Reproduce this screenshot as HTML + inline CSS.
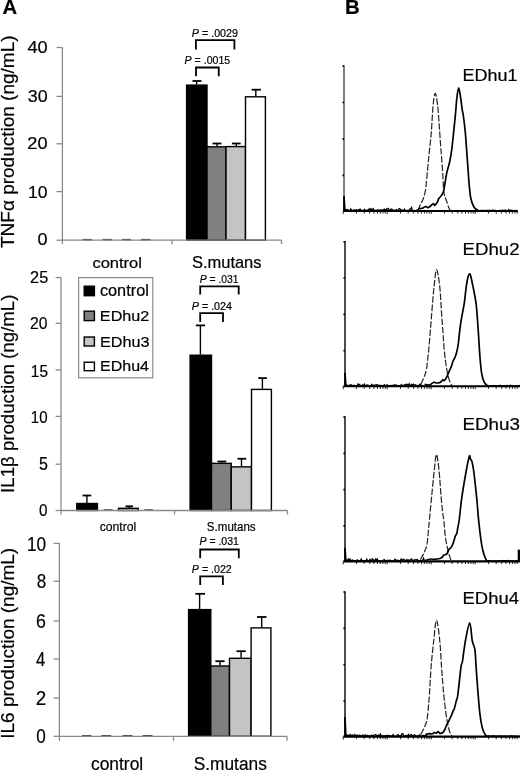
<!DOCTYPE html>
<html><head><meta charset="utf-8"><style>
html,body{margin:0;padding:0;background:#fff;}
body{width:520px;height:772px;overflow:hidden;}
svg{display:block;font-family:"Liberation Sans", sans-serif;filter:grayscale(1);}
text{stroke:#000;stroke-width:0.2px;paint-order:stroke;}
</style></head><body>
<svg width="520" height="772" viewBox="0 0 520 772">
<rect width="520" height="772" fill="#fff"/>
<rect x="186.60" y="85.10" width="20.40" height="155.10" fill="#000" stroke="#000" stroke-width="1.4"/>
<rect x="207.00" y="146.80" width="19.00" height="93.40" fill="#808080" stroke="#000" stroke-width="1.4"/>
<rect x="226.00" y="146.60" width="19.50" height="93.60" fill="#c4c4c4" stroke="#000" stroke-width="1.4"/>
<rect x="245.50" y="96.80" width="19.90" height="143.40" fill="#fff" stroke="#000" stroke-width="1.4"/>
<line x1="196.6" y1="84.5" x2="196.6" y2="81.0" stroke="#000" stroke-width="1.4" />
<line x1="192.5" y1="81.0" x2="201.5" y2="81.0" stroke="#000" stroke-width="1.8" />
<line x1="217" y1="146.2" x2="217" y2="143.5" stroke="#000" stroke-width="1.4" />
<line x1="212.5" y1="143.5" x2="221.5" y2="143.5" stroke="#000" stroke-width="1.8" />
<line x1="236.3" y1="146.0" x2="236.3" y2="143.5" stroke="#000" stroke-width="1.4" />
<line x1="231.9" y1="143.5" x2="240.6" y2="143.5" stroke="#000" stroke-width="1.8" />
<line x1="255.8" y1="96.2" x2="255.8" y2="89.7" stroke="#000" stroke-width="1.4" />
<line x1="251.6" y1="89.7" x2="260.9" y2="89.7" stroke="#000" stroke-width="1.8" />
<line x1="82.5" y1="239.7" x2="92" y2="239.7" stroke="#444" stroke-width="1.6" />
<line x1="102.5" y1="239.7" x2="112" y2="239.7" stroke="#444" stroke-width="1.6" />
<line x1="122" y1="239.7" x2="131" y2="239.7" stroke="#444" stroke-width="1.6" />
<line x1="141" y1="239.7" x2="150.5" y2="239.7" stroke="#444" stroke-width="1.6" />
<line x1="62.4" y1="47.5" x2="62.4" y2="244.2" stroke="#8a8a8a" stroke-width="1.3" />
<line x1="62.4" y1="240.2" x2="281.5" y2="240.2" stroke="#8a8a8a" stroke-width="1.3" />
<line x1="172" y1="240.2" x2="172" y2="244.2" stroke="#8a8a8a" stroke-width="1.3" />
<line x1="281.5" y1="240.2" x2="281.5" y2="244.2" stroke="#8a8a8a" stroke-width="1.3" />
<line x1="56.5" y1="47.5" x2="62.4" y2="47.5" stroke="#8a8a8a" stroke-width="1.3" />
<line x1="56.5" y1="96.4" x2="62.4" y2="96.4" stroke="#8a8a8a" stroke-width="1.3" />
<line x1="56.5" y1="143.8" x2="62.4" y2="143.8" stroke="#8a8a8a" stroke-width="1.3" />
<line x1="56.5" y1="191.6" x2="62.4" y2="191.6" stroke="#8a8a8a" stroke-width="1.3" />
<line x1="56.5" y1="240.2" x2="62.4" y2="240.2" stroke="#8a8a8a" stroke-width="1.3" />
<text transform="translate(27.48,52.90) scale(1.0757,1)" font-size="16.91" font-weight="normal" fill="#000">40</text>
<text transform="translate(27.82,101.70) scale(1.0570,1)" font-size="16.91" font-weight="normal" fill="#000">30</text>
<text transform="translate(27.29,149.30) scale(1.0848,1)" font-size="16.76" font-weight="normal" fill="#000">20</text>
<text transform="translate(27.97,197.80) scale(1.0651,1)" font-size="16.48" font-weight="normal" fill="#000">10</text>
<text transform="translate(37.60,245.40) scale(1.0825,1)" font-size="16.62" font-weight="normal" fill="#000">0</text>
<text transform="translate(92.41,267.60) scale(1.1093,1)" font-size="14.9" font-weight="normal" fill="#000">control</text>
<text transform="translate(191.94,267.60) scale(1.0463,1)" font-size="15.76" font-weight="normal" fill="#000">S.mutans</text>
<text transform="translate(191.77,36.90) scale(0.9490,1)" font-size="11.32" fill="#000" xml:space="preserve"><tspan font-style="italic">P</tspan><tspan font-style="normal"> = .0029</tspan></text>
<text transform="translate(184.62,64.40) scale(0.9353,1)" font-size="11.32" fill="#000" xml:space="preserve"><tspan font-style="italic">P</tspan><tspan font-style="normal"> = .0015</tspan></text>
<path d="M195.9,49.4 V40.2 H234.4 V49.4" fill="none" stroke="#000" stroke-width="1.8"/>
<path d="M196.0,76.3 V67.5 H218.75 V76.3" fill="none" stroke="#000" stroke-width="1.8"/>
<text transform="translate(14.30,248.02) rotate(-90) scale(1.0108,1.0000)" font-size="18.8" fill="#000">TNFα production (ng/mL)</text>
<rect x="190.10" y="355.20" width="21.40" height="155.30" fill="#000" stroke="#000" stroke-width="1.4"/>
<rect x="211.50" y="463.35" width="19.75" height="47.15" fill="#808080" stroke="#000" stroke-width="1.4"/>
<rect x="231.25" y="466.85" width="20.25" height="43.65" fill="#c4c4c4" stroke="#000" stroke-width="1.4"/>
<rect x="251.50" y="389.40" width="19.90" height="121.10" fill="#fff" stroke="#000" stroke-width="1.4"/>
<line x1="200.4" y1="354.6" x2="200.4" y2="325.4" stroke="#000" stroke-width="1.4" />
<line x1="195.8" y1="325.4" x2="205.0" y2="325.4" stroke="#000" stroke-width="1.8" />
<line x1="221.9" y1="462.75" x2="221.9" y2="461.5" stroke="#000" stroke-width="1.4" />
<line x1="217.5" y1="461.5" x2="226.25" y2="461.5" stroke="#000" stroke-width="1.8" />
<line x1="241.5" y1="466.25" x2="241.5" y2="458.75" stroke="#000" stroke-width="1.4" />
<line x1="237.5" y1="458.75" x2="246.25" y2="458.75" stroke="#000" stroke-width="1.8" />
<line x1="262.4" y1="388.8" x2="262.4" y2="378.1" stroke="#000" stroke-width="1.4" />
<line x1="258.3" y1="378.1" x2="266.9" y2="378.1" stroke="#000" stroke-width="1.8" />
<rect x="76.80" y="503.50" width="20.60" height="7.00" fill="#000" stroke="#000" stroke-width="1.4"/>
<line x1="86.9" y1="503.0" x2="86.9" y2="495.5" stroke="#000" stroke-width="1.4" />
<line x1="82.5" y1="495.5" x2="91.25" y2="495.5" stroke="#000" stroke-width="1.8" />
<line x1="103.75" y1="510.0" x2="112.5" y2="510.0" stroke="#444" stroke-width="1.6" />
<rect x="118.50" y="508.30" width="19.70" height="2.20" fill="#c4c4c4" stroke="#000" stroke-width="1.4"/>
<line x1="129.3" y1="508.0" x2="129.3" y2="506.3" stroke="#000" stroke-width="1.4" />
<line x1="125.5" y1="506.3" x2="133.0" y2="506.3" stroke="#000" stroke-width="1.8" />
<line x1="144.5" y1="510.0" x2="153" y2="510.0" stroke="#444" stroke-width="1.6" />
<line x1="61.0" y1="277.5" x2="61.0" y2="514.5" stroke="#8a8a8a" stroke-width="1.3" />
<line x1="61.0" y1="510.5" x2="287.5" y2="510.5" stroke="#8a8a8a" stroke-width="1.3" />
<line x1="174.5" y1="510.5" x2="174.5" y2="514.5" stroke="#8a8a8a" stroke-width="1.3" />
<line x1="287.5" y1="510.5" x2="287.5" y2="514.5" stroke="#8a8a8a" stroke-width="1.3" />
<line x1="55.6" y1="277.5" x2="61.0" y2="277.5" stroke="#8a8a8a" stroke-width="1.3" />
<line x1="55.6" y1="323.3" x2="61.0" y2="323.3" stroke="#8a8a8a" stroke-width="1.3" />
<line x1="55.6" y1="370.0" x2="61.0" y2="370.0" stroke="#8a8a8a" stroke-width="1.3" />
<line x1="55.6" y1="416.4" x2="61.0" y2="416.4" stroke="#8a8a8a" stroke-width="1.3" />
<line x1="55.6" y1="464.2" x2="61.0" y2="464.2" stroke="#8a8a8a" stroke-width="1.3" />
<line x1="55.6" y1="510.5" x2="61.0" y2="510.5" stroke="#8a8a8a" stroke-width="1.3" />
<text transform="translate(30.09,282.90) scale(0.9386,1)" font-size="17.34" font-weight="normal" fill="#000">25</text>
<text transform="translate(30.11,329.20) scale(0.9155,1)" font-size="17.19" font-weight="normal" fill="#000">20</text>
<text transform="translate(30.83,376.60) scale(0.8975,1)" font-size="17.15" font-weight="normal" fill="#000">15</text>
<text transform="translate(30.86,422.60) scale(0.8897,1)" font-size="16.91" font-weight="normal" fill="#000">10</text>
<text transform="translate(39.06,469.80) scale(0.9194,1)" font-size="17.44" font-weight="normal" fill="#000">5</text>
<text transform="translate(39.10,515.80) scale(0.9031,1)" font-size="16.91" font-weight="normal" fill="#000">0</text>
<text transform="translate(99.69,531.00) scale(0.9836,1)" font-size="12.41" font-weight="normal" fill="#000">control</text>
<text transform="translate(206.87,530.90) scale(0.9051,1)" font-size="12.75" font-weight="normal" fill="#000">S.mutans</text>
<text transform="translate(199.68,283.10) scale(0.9404,1)" font-size="11.03" fill="#000" xml:space="preserve"><tspan font-style="italic">P</tspan><tspan font-style="normal"> = .031</tspan></text>
<text transform="translate(191.77,310.00) scale(1.0116,1)" font-size="10.6" fill="#000" xml:space="preserve"><tspan font-style="italic">P</tspan><tspan font-style="normal"> = .024</tspan></text>
<path d="M200.2,294.6 V286.3 H238.7 V294.6" fill="none" stroke="#000" stroke-width="1.8"/>
<path d="M200.2,322.0 V313.1 H223.0 V322.0" fill="none" stroke="#000" stroke-width="1.8"/>
<text transform="translate(14.30,492.92) rotate(-90) scale(0.9916,1.0000)" font-size="18.8" fill="#000">IL1β production (ng/mL)</text>
<rect x="78.6" y="277.6" width="74.2" height="100.2" fill="#fff" stroke="#8a8a8a" stroke-width="1.2"/>
<rect x="84.20" y="286.20" width="10.20" height="9.50" fill="#000" stroke="#000" stroke-width="1.4"/>
<text transform="translate(99.91,295.90) scale(1.0469,1)" font-size="15.59" font-weight="normal" fill="#000">control</text>
<rect x="84.20" y="311.20" width="10.20" height="9.40" fill="#808080" stroke="#000" stroke-width="1.4"/>
<text transform="translate(99.87,321.10) scale(1.0467,1)" font-size="15.45" font-weight="normal" fill="#000">EDhu2</text>
<rect x="84.20" y="337.00" width="10.20" height="9.00" fill="#c4c4c4" stroke="#000" stroke-width="1.4"/>
<text transform="translate(99.97,346.60) scale(1.0782,1)" font-size="15.03" font-weight="normal" fill="#000">EDhu3</text>
<rect x="84.20" y="362.20" width="10.20" height="8.50" fill="#fff" stroke="#000" stroke-width="1.4"/>
<text transform="translate(99.99,371.10) scale(1.1065,1)" font-size="14.48" font-weight="normal" fill="#000">EDhu4</text>
<rect x="188.60" y="609.60" width="22.20" height="126.70" fill="#000" stroke="#000" stroke-width="1.4"/>
<rect x="210.80" y="666.00" width="18.70" height="70.30" fill="#808080" stroke="#000" stroke-width="1.4"/>
<rect x="229.50" y="658.30" width="21.60" height="78.00" fill="#c4c4c4" stroke="#000" stroke-width="1.4"/>
<rect x="251.10" y="627.90" width="19.80" height="108.40" fill="#fff" stroke="#000" stroke-width="1.4"/>
<line x1="199.6" y1="609.0" x2="199.6" y2="593.8" stroke="#000" stroke-width="1.4" />
<line x1="195.4" y1="593.8" x2="205.0" y2="593.8" stroke="#000" stroke-width="1.8" />
<line x1="220.0" y1="665.4" x2="220.0" y2="661.2" stroke="#000" stroke-width="1.4" />
<line x1="215.4" y1="661.2" x2="224.6" y2="661.2" stroke="#000" stroke-width="1.8" />
<line x1="241.1" y1="657.7" x2="241.1" y2="651.2" stroke="#000" stroke-width="1.4" />
<line x1="236.5" y1="651.2" x2="245.8" y2="651.2" stroke="#000" stroke-width="1.8" />
<line x1="261.7" y1="627.3" x2="261.7" y2="617.0" stroke="#000" stroke-width="1.4" />
<line x1="257.0" y1="617.0" x2="266.5" y2="617.0" stroke="#000" stroke-width="1.8" />
<line x1="82" y1="735.8" x2="91.25" y2="735.8" stroke="#444" stroke-width="1.6" />
<line x1="101.25" y1="735.8" x2="111.25" y2="735.8" stroke="#444" stroke-width="1.6" />
<line x1="122.5" y1="735.8" x2="132.5" y2="735.8" stroke="#444" stroke-width="1.6" />
<line x1="142.5" y1="735.8" x2="152.5" y2="735.8" stroke="#444" stroke-width="1.6" />
<line x1="59.4" y1="543.3" x2="59.4" y2="740.8" stroke="#8a8a8a" stroke-width="1.3" />
<line x1="59.4" y1="736.3" x2="287.0" y2="736.3" stroke="#8a8a8a" stroke-width="1.3" />
<line x1="173.5" y1="736.3" x2="173.5" y2="740.8" stroke="#8a8a8a" stroke-width="1.3" />
<line x1="287.0" y1="736.3" x2="287.0" y2="740.8" stroke="#8a8a8a" stroke-width="1.3" />
<line x1="53.6" y1="543.4" x2="59.4" y2="543.4" stroke="#8a8a8a" stroke-width="1.3" />
<line x1="53.6" y1="581.2" x2="59.4" y2="581.2" stroke="#8a8a8a" stroke-width="1.3" />
<line x1="53.6" y1="621.0" x2="59.4" y2="621.0" stroke="#8a8a8a" stroke-width="1.3" />
<line x1="53.6" y1="659.0" x2="59.4" y2="659.0" stroke="#8a8a8a" stroke-width="1.3" />
<line x1="53.6" y1="698.1" x2="59.4" y2="698.1" stroke="#8a8a8a" stroke-width="1.3" />
<line x1="53.6" y1="736.3" x2="59.4" y2="736.3" stroke="#8a8a8a" stroke-width="1.3" />
<text transform="translate(26.89,550.50) scale(0.8726,1)" font-size="19.77" font-weight="normal" fill="#000">10</text>
<text transform="translate(36.67,588.30) scale(0.8610,1)" font-size="19.77" font-weight="normal" fill="#000">8</text>
<text transform="translate(36.09,627.50) scale(0.8997,1)" font-size="19.77" font-weight="normal" fill="#000">6</text>
<text transform="translate(35.92,665.80) scale(0.8430,1)" font-size="19.77" font-weight="normal" fill="#000">4</text>
<text transform="translate(35.86,705.40) scale(0.9402,1)" font-size="20.06" font-weight="normal" fill="#000">2</text>
<text transform="translate(36.33,743.30) scale(0.8677,1)" font-size="19.77" font-weight="normal" fill="#000">0</text>
<text transform="translate(90.97,770.40) scale(0.9937,1)" font-size="17.52" font-weight="normal" fill="#000">control</text>
<text transform="translate(193.70,770.20) scale(0.9516,1)" font-size="18.19" font-weight="normal" fill="#000">S.mutans</text>
<text transform="translate(199.47,545.20) scale(1.0047,1)" font-size="10.46" fill="#000" xml:space="preserve"><tspan font-style="italic">P</tspan><tspan font-style="normal"> = .031</tspan></text>
<text transform="translate(191.87,573.00) scale(0.9753,1)" font-size="10.89" fill="#000" xml:space="preserve"><tspan font-style="italic">P</tspan><tspan font-style="normal"> = .022</tspan></text>
<path d="M200.2,558.2 V549.5 H238.8 V558.2" fill="none" stroke="#000" stroke-width="1.8"/>
<path d="M200.2,585.1 V576.4 H222.9 V585.1" fill="none" stroke="#000" stroke-width="1.8"/>
<text transform="translate(14.30,738.75) rotate(-90) scale(1.0105,1.0000)" font-size="18.8" fill="#000">IL6 production (ng/mL)</text>
<text transform="translate(2.49,14.20) scale(0.9935,1)" font-size="20.4" font-weight="bold" fill="#000">A</text>
<text transform="translate(344.88,13.90) scale(1.0045,1)" font-size="20.4" font-weight="bold" fill="#000">B</text>
<line x1="344.0" y1="65.2" x2="344.0" y2="211.0" stroke="#7a7a7a" stroke-width="1.9"/>
<line x1="342.4" y1="66.00" x2="344.0" y2="66.00" stroke="#000" stroke-width="1.6"/>
<line x1="342.4" y1="102.45" x2="344.0" y2="102.45" stroke="#000" stroke-width="1.6"/>
<line x1="342.4" y1="138.90" x2="344.0" y2="138.90" stroke="#000" stroke-width="1.6"/>
<line x1="342.4" y1="175.35" x2="344.0" y2="175.35" stroke="#000" stroke-width="1.6"/>
<path d="M343.20,211.0 v3.0 M356.45,211.0 v2.6 M364.19,211.0 v2.6 M369.69,211.0 v2.6 M373.95,211.0 v2.6 M377.44,211.0 v2.6 M380.38,211.0 v2.6 M382.94,211.0 v2.6 M385.19,211.0 v2.6 M387.20,211.0 v3.0 M400.45,211.0 v2.6 M408.19,211.0 v2.6 M413.69,211.0 v2.6 M417.95,211.0 v2.6 M421.44,211.0 v2.6 M424.38,211.0 v2.6 M426.94,211.0 v2.6 M429.19,211.0 v2.6 M431.20,211.0 v3.0 M444.45,211.0 v2.6 M452.19,211.0 v2.6 M457.69,211.0 v2.6 M461.95,211.0 v2.6 M465.44,211.0 v2.6 M468.38,211.0 v2.6 M470.94,211.0 v2.6 M473.19,211.0 v2.6 M475.20,211.0 v3.0 M488.45,211.0 v2.6 M496.19,211.0 v2.6 M501.69,211.0 v2.6 M505.95,211.0 v2.6 M509.44,211.0 v2.6 M512.38,211.0 v2.6 M514.94,211.0 v2.6 M517.19,211.0 v2.6" stroke="#222" stroke-width="1.0" fill="none"/>
<line x1="343.3" y1="211.0" x2="517.8" y2="211.0" stroke="#000" stroke-width="2.1"/>
<path d="M344.0,211.0 L344.0,196.0 L344.8,209.5 L347.0,210.4" stroke="#000" stroke-width="1.7" fill="none"/>
<polyline points="346.0,210.61 346.8,209.57 347.6,209.86 348.4,209.81 349.2,210.47 350.0,210.46 350.8,208.99 351.6,210.56 352.4,210.66 353.2,210.04 354.0,209.69 354.8,210.67 355.6,210.17 356.4,209.82 357.2,210.37 358.0,210.31 358.8,209.50 359.6,209.34 360.4,209.24 361.2,210.49 362.0,210.54 362.8,210.41 363.6,210.64 364.4,209.50 365.2,210.63 366.0,210.49 366.8,210.02 367.6,209.94 368.4,210.34 369.2,208.89 370.0,210.25 370.8,208.72 371.6,209.42 372.4,209.71 373.2,208.72 374.0,209.98 374.8,210.40 375.6,210.42 376.4,210.29 377.2,210.23 378.0,209.76 378.8,210.49 379.6,210.17 380.4,210.16 381.2,209.81 382.0,210.66 382.8,209.99 383.6,209.74 384.4,209.02 385.2,209.72 386.0,209.84 386.8,208.82 387.6,208.99 388.4,208.53 389.2,210.45 390.0,210.23 390.8,209.21 391.6,208.91 392.4,209.74 393.2,210.04 394.0,210.56 394.8,210.10 395.6,210.12 396.4,209.68 397.2,210.63 398.0,210.38 398.8,209.04 399.6,208.54 400.4,209.33 401.2,209.85 402.0,210.26 402.8,210.43 403.6,210.28 404.4,209.22 405.2,210.51 406.0,210.51 406.8,210.49 407.6,210.52 408.4,210.54 409.2,209.91 410.0,208.85 410.8,208.98 411.6,207.45 412.4,210.59 413.2,210.57 414.0,210.36 414.8,210.52 415.6,210.57 416.4,210.40 417.2,209.83 418.0,211.00" fill="none" stroke="#000" stroke-width="1.3"/>
<polyline points="480.0,210.27 480.8,210.57 481.6,210.35 482.4,210.52 483.2,210.23 484.0,210.68 484.8,210.53 485.6,210.32 486.4,210.27 487.2,210.25 488.0,210.45 488.8,210.53 489.6,210.16 490.4,210.36 491.2,210.66 492.0,210.60 492.8,209.80 493.6,210.60 494.4,210.43 495.2,210.30 496.0,210.67 496.8,210.65 497.6,210.58 498.4,210.68 499.2,210.60 500.0,210.46 500.8,210.32 501.6,210.63 502.4,210.07 503.2,210.45 504.0,210.20 504.8,210.64 505.6,210.18 506.4,210.70 507.2,210.43 508.0,210.63 508.8,209.54 509.6,210.68 510.4,210.41 511.2,210.24 512.0,210.60 512.8,210.47 513.6,210.67 514.4,210.57 515.2,210.66 516.0,210.35 516.8,210.50 517.3,211.00" fill="none" stroke="#000" stroke-width="1.2"/>
<path d="M418.00,210.60 C418.43,209.53 419.73,206.13 420.60,204.20 C421.47,202.27 422.48,200.87 423.20,199.00 C423.92,197.13 424.40,195.45 424.90,193.00 C425.40,190.55 425.58,190.00 426.20,184.30 C426.82,178.60 427.75,167.43 428.60,158.80 C429.45,150.17 430.57,141.25 431.30,132.50 C432.03,123.75 432.35,112.82 433.00,106.30 C433.65,99.78 434.43,93.62 435.20,93.40 C435.97,93.18 436.93,99.73 437.60,105.00 C438.27,110.27 438.70,118.33 439.20,125.00 C439.70,131.67 440.17,139.17 440.60,145.00 C441.03,150.83 441.40,154.50 441.80,160.00 C442.20,165.50 442.65,172.58 443.00,178.00 C443.35,183.42 443.32,188.70 443.90,192.50 C444.48,196.30 445.63,198.13 446.50,200.80 C447.37,203.47 448.35,206.83 449.10,208.50 C449.85,210.17 450.68,210.42 451.00,210.80" fill="none" stroke="#222" stroke-width="1.2" stroke-dasharray="6.5,1.8"/>
<path d="M418.00,208.80 C418.72,208.70 421.00,208.58 422.30,208.20 C423.60,207.82 424.87,206.60 425.80,206.50 C426.73,206.40 427.12,207.68 427.90,207.60 C428.68,207.52 429.57,206.68 430.50,206.00 C431.43,205.32 432.78,203.62 433.50,203.50 C434.22,203.38 434.15,205.55 434.80,205.30 C435.45,205.05 436.75,203.08 437.40,202.00 C438.05,200.92 438.05,199.87 438.70,198.80 C439.35,197.73 440.50,196.82 441.30,195.60 C442.10,194.38 442.85,193.77 443.50,191.50 C444.15,189.23 444.65,185.15 445.20,182.00 C445.75,178.85 446.07,175.92 446.80,172.60 C447.53,169.28 448.78,165.88 449.60,162.10 C450.42,158.32 451.03,154.85 451.70,149.90 C452.37,144.95 452.98,138.23 453.60,132.40 C454.22,126.57 454.85,120.72 455.40,114.90 C455.95,109.08 456.35,102.00 456.90,97.50 C457.45,93.00 458.08,87.90 458.70,87.90 C459.32,87.90 460.02,93.88 460.60,97.50 C461.18,101.12 461.73,106.52 462.20,109.60 C462.67,112.68 462.88,112.20 463.40,116.00 C463.92,119.80 464.77,126.75 465.30,132.40 C465.83,138.05 466.17,144.08 466.60,149.90 C467.03,155.72 467.47,161.48 467.90,167.30 C468.33,173.12 468.70,179.55 469.20,184.80 C469.70,190.05 470.08,195.05 470.90,198.80 C471.72,202.55 472.98,205.40 474.10,207.30 C475.22,209.20 476.62,209.62 477.60,210.20 C478.58,210.78 479.60,210.70 480.00,210.80" fill="none" stroke="#000" stroke-width="1.7" stroke-linejoin="round"/>
<text transform="translate(462.58,81.25) scale(1.1284,1)" font-size="15.92" fill="#000">EDhu1</text>
<line x1="345.0" y1="240.9" x2="345.0" y2="386.3" stroke="#454545" stroke-width="1.9"/>
<line x1="343.4" y1="241.70" x2="345.0" y2="241.70" stroke="#000" stroke-width="1.6"/>
<line x1="343.4" y1="278.05" x2="345.0" y2="278.05" stroke="#000" stroke-width="1.6"/>
<line x1="343.4" y1="314.40" x2="345.0" y2="314.40" stroke="#000" stroke-width="1.6"/>
<line x1="343.4" y1="350.75" x2="345.0" y2="350.75" stroke="#000" stroke-width="1.6"/>
<path d="M343.20,386.3 v3.0 M356.45,386.3 v2.6 M364.19,386.3 v2.6 M369.69,386.3 v2.6 M373.95,386.3 v2.6 M377.44,386.3 v2.6 M380.38,386.3 v2.6 M382.94,386.3 v2.6 M385.19,386.3 v2.6 M387.20,386.3 v3.0 M400.45,386.3 v2.6 M408.19,386.3 v2.6 M413.69,386.3 v2.6 M417.95,386.3 v2.6 M421.44,386.3 v2.6 M424.38,386.3 v2.6 M426.94,386.3 v2.6 M429.19,386.3 v2.6 M431.20,386.3 v3.0 M444.45,386.3 v2.6 M452.19,386.3 v2.6 M457.69,386.3 v2.6 M461.95,386.3 v2.6 M465.44,386.3 v2.6 M468.38,386.3 v2.6 M470.94,386.3 v2.6 M473.19,386.3 v2.6 M475.20,386.3 v3.0 M488.45,386.3 v2.6 M496.19,386.3 v2.6 M501.69,386.3 v2.6 M505.95,386.3 v2.6 M509.44,386.3 v2.6 M512.38,386.3 v2.6 M514.94,386.3 v2.6 M517.19,386.3 v2.6" stroke="#222" stroke-width="1.0" fill="none"/>
<line x1="343.3" y1="386.3" x2="520" y2="386.3" stroke="#000" stroke-width="2.1"/>
<path d="M345.0,386.3 L345.0,372.7 L345.8,384.8 L348.0,385.7" stroke="#000" stroke-width="1.7" fill="none"/>
<polyline points="346.0,385.96 346.8,385.58 347.6,385.59 348.4,385.68 349.2,385.17 350.0,385.63 350.8,384.59 351.6,385.20 352.4,385.94 353.2,385.37 354.0,385.29 354.8,385.83 355.6,385.80 356.4,385.62 357.2,385.54 358.0,383.99 358.8,385.22 359.6,384.56 360.4,385.82 361.2,385.44 362.0,385.54 362.8,384.82 363.6,385.80 364.4,384.24 365.2,385.72 366.0,385.74 366.8,384.94 367.6,385.17 368.4,385.44 369.2,385.98 370.0,385.62 370.8,385.94 371.6,384.35 372.4,385.28 373.2,385.27 374.0,385.78 374.8,385.01 375.6,385.36 376.4,384.71 377.2,384.82 378.0,385.07 378.8,385.95 379.6,385.22 380.4,385.44 381.2,385.59 382.0,385.35 382.8,385.90 383.6,385.75 384.4,384.79 385.2,385.64 386.0,385.79 386.8,384.91 387.6,385.19 388.4,385.85 389.2,385.41 390.0,385.99 390.8,385.48 391.6,385.68 392.4,385.51 393.2,385.46 394.0,385.08 394.8,384.83 395.6,385.51 396.4,384.96 397.2,385.66 398.0,385.77 398.8,385.40 399.6,385.76 400.4,385.88 401.2,384.76 402.0,385.94 402.8,385.20 403.6,385.56 404.4,385.10 405.2,384.66 406.0,385.63 406.8,384.22 407.6,384.64 408.4,385.78 409.2,383.73 410.0,385.26 410.8,385.92 411.6,384.48 412.4,385.67 413.2,384.18 414.0,384.85 414.8,384.79 415.6,384.86 416.4,385.84 417.2,385.44 418.0,385.54 418.8,385.83 419.6,384.31 420.4,384.44 421.2,385.94 422.0,385.89 422.8,385.47 423.6,385.85 424.4,385.82 424.6,386.30" fill="none" stroke="#000" stroke-width="1.3"/>
<polyline points="487.8,385.49 488.6,385.92 489.4,385.90 490.2,385.83 491.0,385.66 491.8,385.98 492.6,385.90 493.4,385.37 494.2,385.83 495.0,385.56 495.8,385.52 496.6,385.82 497.4,385.77 498.2,385.70 499.0,385.60 499.8,385.35 500.6,385.40 501.4,385.77 502.2,385.52 503.0,385.76 503.8,385.81 504.6,385.70 505.4,385.96 506.2,385.94 507.0,385.28 507.8,385.71 508.6,385.85 509.4,385.99 510.2,385.16 511.0,385.93 511.8,385.72 512.6,385.76 513.4,385.80 514.2,385.77 515.0,385.85 515.8,385.86 516.6,385.96 517.4,385.89 518.2,385.69 519.0,385.43 519.5,386.30" fill="none" stroke="#000" stroke-width="1.2"/>
<path d="M420.80,384.60 C421.43,383.13 423.65,378.40 424.60,375.80 C425.55,373.20 425.93,372.22 426.50,369.00 C427.07,365.78 427.55,360.50 428.00,356.50 C428.45,352.50 428.57,352.35 429.20,345.00 C429.83,337.65 430.98,322.20 431.80,312.40 C432.62,302.60 433.30,293.33 434.10,286.20 C434.90,279.07 435.67,269.60 436.60,269.60 C437.53,269.60 438.88,279.07 439.70,286.20 C440.52,293.33 440.95,304.60 441.50,312.40 C442.05,320.20 442.62,327.57 443.00,333.00 C443.38,338.43 443.42,340.60 443.80,345.00 C444.18,349.40 444.73,354.92 445.30,359.40 C445.87,363.88 446.57,368.53 447.20,371.90 C447.83,375.27 448.38,377.43 449.10,379.60 C449.82,381.77 450.85,383.83 451.50,384.90 C452.15,385.97 452.75,385.82 453.00,386.00" fill="none" stroke="#222" stroke-width="1.2" stroke-dasharray="6.5,1.8"/>
<path d="M424.60,384.40 C425.40,384.50 427.87,385.37 429.40,385.00 C430.93,384.63 432.75,382.53 433.80,382.20 C434.85,381.87 434.67,382.95 435.70,383.00 C436.73,383.05 438.80,383.03 440.00,382.50 C441.20,381.97 442.18,380.12 442.90,379.80 C443.62,379.48 443.67,381.03 444.30,380.60 C444.93,380.17 445.90,378.73 446.70,377.20 C447.50,375.67 448.37,373.08 449.10,371.40 C449.83,369.72 450.45,368.78 451.10,367.10 C451.75,365.42 452.37,362.90 453.00,361.30 C453.63,359.70 454.27,359.10 454.90,357.50 C455.53,355.90 456.22,354.12 456.80,351.70 C457.38,349.28 457.90,346.63 458.40,343.00 C458.90,339.37 459.27,334.12 459.80,329.90 C460.33,325.68 460.87,322.07 461.60,317.70 C462.33,313.33 463.42,308.95 464.20,303.70 C464.98,298.45 465.67,290.65 466.30,286.20 C466.93,281.75 467.48,279.03 468.00,277.00 C468.52,274.97 468.97,274.25 469.40,274.00 C469.83,273.75 470.02,273.47 470.60,275.50 C471.18,277.53 471.98,281.50 472.90,286.20 C473.82,290.90 475.22,296.42 476.10,303.70 C476.98,310.98 477.57,321.15 478.20,329.90 C478.83,338.65 479.32,348.92 479.90,356.20 C480.48,363.48 480.97,369.23 481.70,373.60 C482.43,377.97 483.28,380.33 484.30,382.40 C485.32,384.47 487.22,385.40 487.80,386.00" fill="none" stroke="#000" stroke-width="1.7" stroke-linejoin="round"/>
<text transform="translate(462.52,255.30) scale(1.0802,1)" font-size="17.30" fill="#000">EDhu2</text>
<line x1="345.0" y1="416.3" x2="345.0" y2="561.4" stroke="#454545" stroke-width="1.9"/>
<line x1="343.4" y1="417.10" x2="345.0" y2="417.10" stroke="#000" stroke-width="1.6"/>
<line x1="343.4" y1="453.38" x2="345.0" y2="453.38" stroke="#000" stroke-width="1.6"/>
<line x1="343.4" y1="489.65" x2="345.0" y2="489.65" stroke="#000" stroke-width="1.6"/>
<line x1="343.4" y1="525.92" x2="345.0" y2="525.92" stroke="#000" stroke-width="1.6"/>
<path d="M343.20,561.4 v3.0 M356.45,561.4 v2.6 M364.19,561.4 v2.6 M369.69,561.4 v2.6 M373.95,561.4 v2.6 M377.44,561.4 v2.6 M380.38,561.4 v2.6 M382.94,561.4 v2.6 M385.19,561.4 v2.6 M387.20,561.4 v3.0 M400.45,561.4 v2.6 M408.19,561.4 v2.6 M413.69,561.4 v2.6 M417.95,561.4 v2.6 M421.44,561.4 v2.6 M424.38,561.4 v2.6 M426.94,561.4 v2.6 M429.19,561.4 v2.6 M431.20,561.4 v3.0 M444.45,561.4 v2.6 M452.19,561.4 v2.6 M457.69,561.4 v2.6 M461.95,561.4 v2.6 M465.44,561.4 v2.6 M468.38,561.4 v2.6 M470.94,561.4 v2.6 M473.19,561.4 v2.6 M475.20,561.4 v3.0 M488.45,561.4 v2.6 M496.19,561.4 v2.6 M501.69,561.4 v2.6 M505.95,561.4 v2.6 M509.44,561.4 v2.6 M512.38,561.4 v2.6 M514.94,561.4 v2.6 M517.19,561.4 v2.6" stroke="#222" stroke-width="1.0" fill="none"/>
<line x1="343.3" y1="561.4" x2="520" y2="561.4" stroke="#000" stroke-width="2.1"/>
<path d="M345.0,561.4 L345.0,547.7 L345.8,559.9 L348.0,560.8" stroke="#000" stroke-width="1.7" fill="none"/>
<rect x="517.7" y="549.6" width="3" height="11.799999999999955" fill="#000"/>
<polyline points="346.0,560.04 346.8,560.07 347.6,560.50 348.4,559.04 349.2,560.97 350.0,559.07 350.8,560.11 351.6,560.92 352.4,559.88 353.2,560.65 354.0,560.74 354.8,560.84 355.6,560.44 356.4,560.97 357.2,559.97 358.0,560.78 358.8,560.47 359.6,561.05 360.4,560.73 361.2,559.13 362.0,561.05 362.8,560.57 363.6,560.96 364.4,560.63 365.2,560.75 366.0,560.78 366.8,559.28 367.6,561.08 368.4,560.94 369.2,560.49 370.0,559.28 370.8,560.90 371.6,560.54 372.4,558.87 373.2,559.79 374.0,560.77 374.8,560.50 375.6,559.04 376.4,560.25 377.2,558.92 378.0,560.50 378.8,560.63 379.6,560.75 380.4,560.68 381.2,560.90 382.0,560.84 382.8,560.71 383.6,559.94 384.4,559.75 385.2,561.07 386.0,560.69 386.8,560.44 387.6,560.67 388.4,560.16 389.2,560.69 390.0,560.16 390.8,561.01 391.6,560.80 392.4,560.91 393.2,561.07 394.0,561.10 394.8,559.36 395.6,559.53 396.4,560.92 397.2,560.31 398.0,560.22 398.8,560.82 399.6,561.08 400.4,560.16 401.2,559.07 402.0,560.60 402.8,559.67 403.6,559.16 404.4,560.18 405.2,560.63 406.0,560.40 406.8,559.56 407.6,560.86 408.4,559.94 409.2,560.16 410.0,560.58 410.8,559.39 411.6,558.98 412.4,560.60 413.2,560.41 414.0,560.65 414.8,559.56 415.6,559.81 416.4,560.01 417.2,559.37 418.0,560.35 418.8,560.88 419.6,560.87 420.4,560.59 421.2,560.65 422.0,560.86 422.8,559.96 423.6,558.28 424.4,560.95 425.2,560.86 426.0,559.99 426.5,561.40" fill="none" stroke="#000" stroke-width="1.3"/>
<polyline points="487.0,561.07 487.8,560.57 488.6,560.83 489.4,560.48 490.2,561.00 491.0,560.87 491.8,560.95 492.6,560.90 493.4,561.08 494.2,560.92 495.0,560.86 495.8,561.05 496.6,561.00 497.4,560.74 498.2,560.85 499.0,560.69 499.8,560.82 500.6,561.07 501.4,560.67 502.2,560.54 503.0,560.87 503.8,560.51 504.6,560.83 505.4,560.59 506.2,560.51 507.0,560.91 507.8,561.07 508.6,560.42 509.4,560.51 510.2,561.05 511.0,560.76 511.8,560.95 512.6,560.86 513.4,560.82 514.2,561.03 515.0,560.94 515.8,560.83 516.6,560.53 517.4,560.57 518.2,561.05 519.0,560.55 519.5,561.40" fill="none" stroke="#000" stroke-width="1.2"/>
<path d="M420.30,559.60 C421.02,558.28 423.48,554.30 424.60,551.70 C425.72,549.10 426.35,547.68 427.00,544.00 C427.65,540.32 428.10,533.60 428.50,529.60 C428.90,525.60 428.88,525.45 429.40,520.00 C429.92,514.55 430.80,505.07 431.60,496.90 C432.40,488.73 433.38,478.07 434.20,471.00 C435.02,463.93 435.68,454.50 436.50,454.50 C437.32,454.50 438.33,463.93 439.10,471.00 C439.87,478.07 440.45,489.57 441.10,496.90 C441.75,504.23 442.55,511.15 443.00,515.00 C443.45,518.85 443.42,516.45 443.80,520.00 C444.18,523.55 444.73,531.82 445.30,536.30 C445.87,540.78 446.57,543.85 447.20,546.90 C447.83,549.95 448.45,552.35 449.10,554.60 C449.75,556.85 450.53,559.28 451.10,560.40 C451.67,561.52 452.27,561.15 452.50,561.30" fill="none" stroke="#222" stroke-width="1.2" stroke-dasharray="6.5,1.8"/>
<path d="M426.50,560.00 C427.30,559.83 430.02,559.10 431.30,559.00 C432.58,558.90 432.75,559.48 434.20,559.40 C435.65,559.32 438.72,558.82 440.00,558.50 C441.28,558.18 441.27,558.07 441.90,557.50 C442.53,556.93 443.00,555.67 443.80,555.10 C444.60,554.53 445.88,554.98 446.70,554.10 C447.52,553.22 447.90,551.00 448.70,549.80 C449.50,548.60 450.70,548.18 451.50,546.90 C452.30,545.62 452.85,543.93 453.50,542.10 C454.15,540.27 454.85,537.33 455.40,535.90 C455.95,534.47 456.40,534.87 456.80,533.50 C457.20,532.13 457.40,529.95 457.80,527.70 C458.20,525.45 458.52,525.13 459.20,520.00 C459.88,514.87 460.73,505.07 461.90,496.90 C463.07,488.73 464.97,477.78 466.20,471.00 C467.43,464.22 468.57,458.12 469.30,456.20 C470.03,454.28 470.17,458.63 470.60,459.50 C471.03,460.37 471.38,459.48 471.90,461.40 C472.42,463.32 472.92,465.08 473.70,471.00 C474.48,476.92 475.73,488.25 476.60,496.90 C477.47,505.55 478.03,514.83 478.90,522.90 C479.77,530.97 480.88,539.83 481.80,545.30 C482.72,550.77 483.53,553.03 484.40,555.70 C485.27,558.37 486.57,560.37 487.00,561.30" fill="none" stroke="#000" stroke-width="1.7" stroke-linejoin="round"/>
<text transform="translate(462.51,430.00) scale(1.1237,1)" font-size="16.72" fill="#000">EDhu3</text>
<line x1="345.0" y1="591.2" x2="345.0" y2="736.6" stroke="#454545" stroke-width="1.9"/>
<line x1="343.4" y1="592.00" x2="345.0" y2="592.00" stroke="#000" stroke-width="1.6"/>
<line x1="343.4" y1="628.35" x2="345.0" y2="628.35" stroke="#000" stroke-width="1.6"/>
<line x1="343.4" y1="664.70" x2="345.0" y2="664.70" stroke="#000" stroke-width="1.6"/>
<line x1="343.4" y1="701.05" x2="345.0" y2="701.05" stroke="#000" stroke-width="1.6"/>
<path d="M343.20,736.6 v3.0 M356.45,736.6 v2.6 M364.19,736.6 v2.6 M369.69,736.6 v2.6 M373.95,736.6 v2.6 M377.44,736.6 v2.6 M380.38,736.6 v2.6 M382.94,736.6 v2.6 M385.19,736.6 v2.6 M387.20,736.6 v3.0 M400.45,736.6 v2.6 M408.19,736.6 v2.6 M413.69,736.6 v2.6 M417.95,736.6 v2.6 M421.44,736.6 v2.6 M424.38,736.6 v2.6 M426.94,736.6 v2.6 M429.19,736.6 v2.6 M431.20,736.6 v3.0 M444.45,736.6 v2.6 M452.19,736.6 v2.6 M457.69,736.6 v2.6 M461.95,736.6 v2.6 M465.44,736.6 v2.6 M468.38,736.6 v2.6 M470.94,736.6 v2.6 M473.19,736.6 v2.6 M475.20,736.6 v3.0 M488.45,736.6 v2.6 M496.19,736.6 v2.6 M501.69,736.6 v2.6 M505.95,736.6 v2.6 M509.44,736.6 v2.6 M512.38,736.6 v2.6 M514.94,736.6 v2.6 M517.19,736.6 v2.6" stroke="#222" stroke-width="1.0" fill="none"/>
<line x1="343.3" y1="736.6" x2="520" y2="736.6" stroke="#000" stroke-width="2.1"/>
<path d="M345.0,736.6 L345.0,717.3 L345.8,735.1 L348.0,736.0" stroke="#000" stroke-width="1.7" fill="none"/>
<polyline points="346.0,735.85 346.8,734.69 347.6,735.60 348.4,736.23 349.2,734.97 350.0,736.30 350.8,734.81 351.6,736.02 352.4,735.22 353.2,735.20 354.0,736.07 354.8,734.70 355.6,736.18 356.4,735.38 357.2,734.98 358.0,735.98 358.8,735.90 359.6,735.23 360.4,736.06 361.2,735.63 362.0,735.85 362.8,735.01 363.6,735.85 364.4,735.62 365.2,734.95 366.0,735.41 366.8,735.97 367.6,735.38 368.4,735.80 369.2,735.97 370.0,735.81 370.8,735.74 371.6,735.16 372.4,735.94 373.2,735.90 374.0,735.05 374.8,734.96 375.6,734.69 376.4,735.39 377.2,735.72 378.0,735.44 378.8,735.20 379.6,735.46 380.4,733.99 381.2,735.46 382.0,736.15 382.8,735.68 383.6,735.84 384.4,735.97 385.2,736.09 386.0,735.50 386.8,735.55 387.6,735.31 388.4,735.41 389.2,736.07 390.0,735.75 390.8,735.81 391.6,736.25 392.4,735.85 393.2,734.55 394.0,736.25 394.8,736.16 395.6,736.27 396.4,736.14 397.2,735.33 398.0,734.61 398.8,735.74 399.6,735.77 400.4,735.66 401.2,735.68 402.0,733.63 402.8,733.57 403.6,735.41 404.4,735.99 405.2,736.28 406.0,735.39 406.8,735.63 407.6,736.22 408.4,734.42 409.2,736.05 410.0,735.39 410.8,734.64 411.6,734.69 412.4,735.75 413.2,735.99 414.0,735.26 414.8,734.92 415.6,736.04 416.4,735.98 417.2,736.09 418.0,736.28 418.8,735.59 419.6,734.73 420.4,736.18 421.2,736.21 422.0,736.13 422.8,735.44 423.6,735.46 424.4,735.85 425.2,735.77 426.0,734.33 426.5,736.60" fill="none" stroke="#000" stroke-width="1.3"/>
<polyline points="486.1,735.87 486.9,735.96 487.7,735.82 488.5,735.62 489.3,736.26 490.1,736.03 490.9,736.25 491.7,735.79 492.5,736.13 493.3,735.80 494.1,735.82 494.9,735.93 495.7,736.12 496.5,736.13 497.3,736.03 498.1,736.11 498.9,736.26 499.7,735.67 500.5,736.17 501.3,736.15 502.1,735.81 502.9,736.14 503.7,736.04 504.5,735.86 505.3,736.07 506.1,736.08 506.9,736.09 507.7,736.18 508.5,735.95 509.3,736.25 510.1,735.92 510.9,736.28 511.7,735.75 512.5,735.86 513.3,736.23 514.1,736.14 514.9,735.88 515.7,736.04 516.5,736.23 517.3,736.16 518.1,736.00 518.9,736.00 519.5,736.60" fill="none" stroke="#000" stroke-width="1.2"/>
<path d="M420.80,734.60 C421.43,733.28 423.57,729.13 424.60,726.70 C425.63,724.27 426.35,723.52 427.00,720.00 C427.65,716.48 428.10,709.77 428.50,705.60 C428.90,701.43 428.97,701.45 429.40,695.00 C429.83,688.55 430.38,675.90 431.10,666.90 C431.82,657.90 432.80,648.78 433.70,641.00 C434.60,633.22 435.48,620.20 436.50,620.20 C437.52,620.20 438.97,633.22 439.80,641.00 C440.63,648.78 440.93,659.07 441.50,666.90 C442.07,674.73 442.82,683.32 443.20,688.00 C443.58,692.68 443.37,690.95 443.80,695.00 C444.23,699.05 445.15,707.50 445.80,712.30 C446.45,717.10 447.07,720.60 447.70,723.80 C448.33,727.00 448.97,729.57 449.60,731.50 C450.23,733.43 450.93,734.58 451.50,735.40 C452.07,736.22 452.75,736.23 453.00,736.40" fill="none" stroke="#222" stroke-width="1.2" stroke-dasharray="6.5,1.8"/>
<path d="M426.50,734.60 C426.90,734.43 427.93,733.70 428.90,733.60 C429.87,733.50 431.42,734.17 432.30,734.00 C433.18,733.83 433.55,732.75 434.20,732.60 C434.85,732.45 435.55,733.27 436.20,733.10 C436.85,732.93 437.47,731.55 438.10,731.60 C438.73,731.65 439.20,733.25 440.00,733.40 C440.80,733.55 442.10,733.13 442.90,732.50 C443.70,731.87 444.17,730.88 444.80,729.60 C445.43,728.32 446.05,726.23 446.70,724.80 C447.35,723.37 447.97,722.43 448.70,721.00 C449.43,719.57 450.38,717.82 451.10,716.20 C451.82,714.58 452.45,712.58 453.00,711.30 C453.55,710.02 453.85,710.25 454.40,708.50 C454.95,706.75 455.73,703.05 456.30,700.80 C456.87,698.55 457.02,700.65 457.80,695.00 C458.58,689.35 460.23,672.45 461.00,666.90 C461.77,661.35 461.67,666.02 462.40,661.70 C463.13,657.38 464.18,647.48 465.40,641.00 C466.62,634.52 468.55,622.80 469.70,622.80 C470.85,622.80 471.43,636.53 472.30,641.00 C473.17,645.47 474.27,645.28 474.90,649.60 C475.53,653.92 475.58,659.68 476.10,666.90 C476.62,674.12 477.33,684.83 478.00,692.90 C478.67,700.97 479.32,709.25 480.10,715.30 C480.88,721.35 481.70,725.73 482.70,729.20 C483.70,732.67 485.53,734.95 486.10,736.10" fill="none" stroke="#000" stroke-width="1.7" stroke-linejoin="round"/>
<text transform="translate(462.54,604.40) scale(1.1193,1)" font-size="16.50" fill="#000">EDhu4</text>
</svg>
</body></html>
